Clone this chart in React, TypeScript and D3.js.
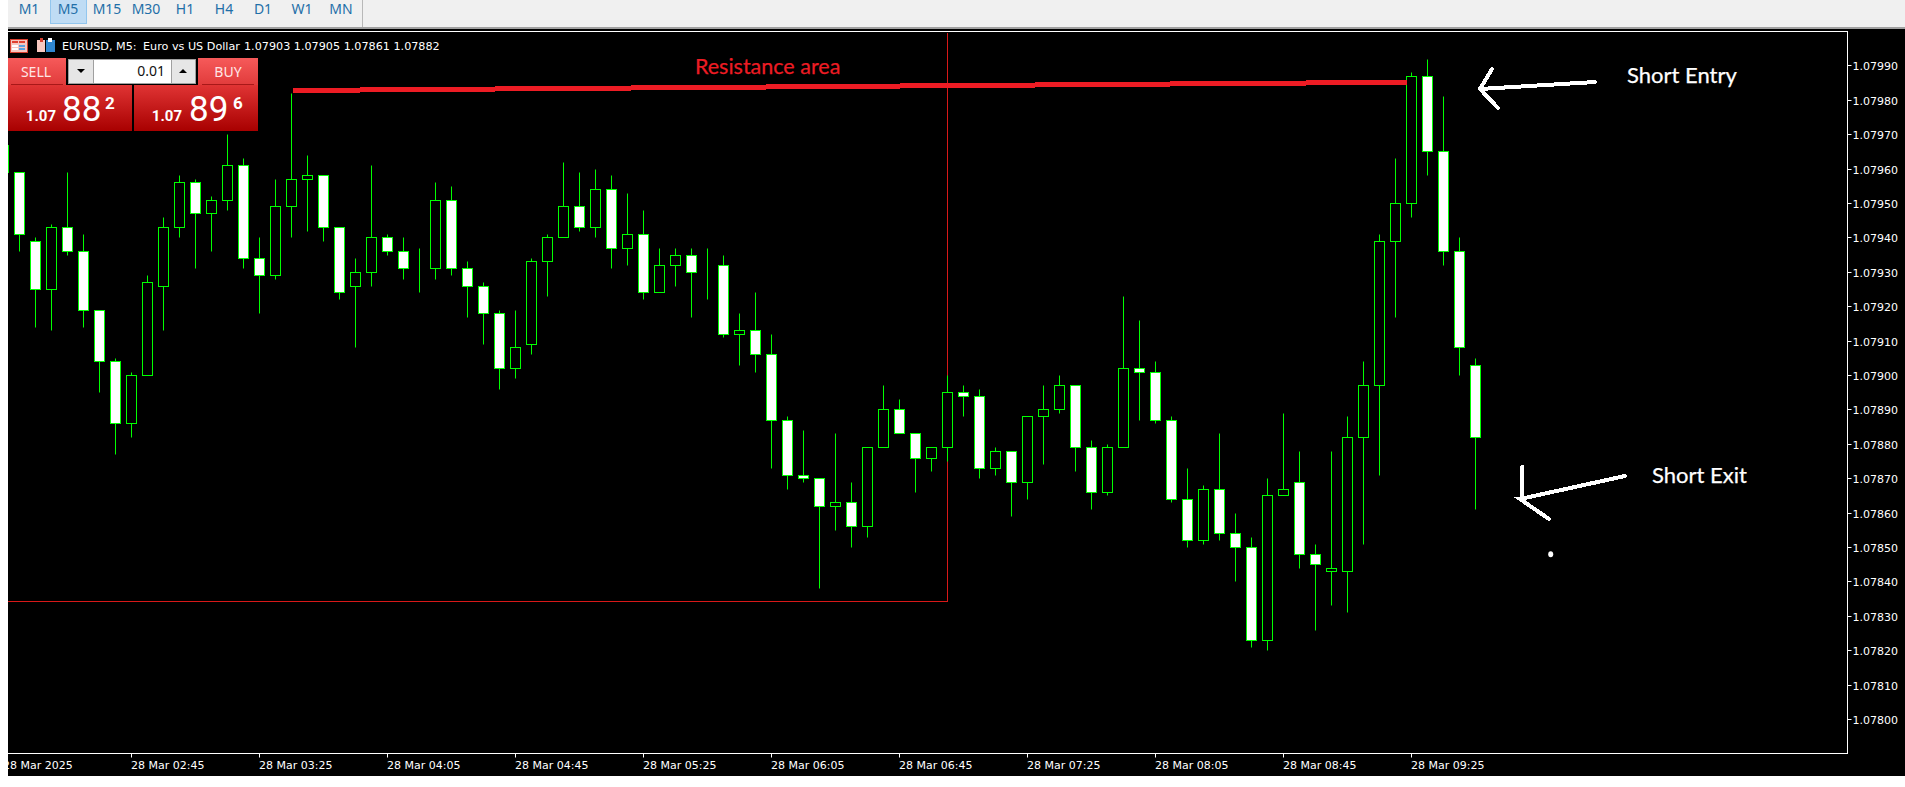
import * as d3 from 'd3';
import React from 'react';

const W = 1905;
const H = 787;

const periods = ['M1', 'M5', 'M15', 'M30', 'H1', 'H4', 'D1', 'W1', 'MN'];

// candle -1 is the one cut off by the left edge of the window
const opens = [
  1.07959, 1.07959, 1.07939, 1.07925, 1.07943, 1.07936, 1.07919, 1.07904, 1.07886, 1.079, 1.07926, 1.07943, 1.07956,
  1.07947, 1.07951, 1.07961, 1.07934, 1.07929, 1.07949, 1.07957, 1.07958, 1.07943, 1.07926, 1.0793, 1.0794, 1.07936,
  1.07931, 1.07931, 1.07951, 1.07931, 1.07926, 1.07918, 1.07902, 1.07909, 1.07933, 1.0794, 1.07949, 1.07943, 1.07954,
  1.07937, 1.07941, 1.07924, 1.07932, 1.07935, 1.07931, 1.07932, 1.07912, 1.07913, 1.07906, 1.07887, 1.07871, 1.0787,
  1.07862, 1.07863, 1.07856, 1.07879, 1.0789, 1.07883, 1.07876, 1.07879, 1.07895, 1.07894, 1.07873, 1.07878, 1.07869,
  1.07888, 1.0789, 1.07897, 1.07879, 1.07866, 1.07879, 1.07902, 1.07901, 1.07887, 1.07864, 1.07852, 1.07867, 1.07854,
  1.0785, 1.07823, 1.07865, 1.07869, 1.07848, 1.07843, 1.07843, 1.07882, 1.07897, 1.07939, 1.0795, 1.07987, 1.07965,
  1.07936, 1.07903,
];
const closes = [
  1.07967, 1.07941, 1.07925, 1.07943, 1.07936, 1.07919, 1.07904, 1.07886, 1.079, 1.07927, 1.07943, 1.07956, 1.07947,
  1.07951, 1.07961, 1.07934, 1.07929, 1.07949, 1.07957, 1.07958, 1.07943, 1.07924, 1.0793, 1.0794, 1.07936, 1.07931,
  1.07931, 1.07951, 1.07931, 1.07926, 1.07918, 1.07902, 1.07908, 1.07933, 1.0794, 1.07949, 1.07943, 1.07954, 1.07937,
  1.07941, 1.07924, 1.07932, 1.07935, 1.0793, 1.07931, 1.07912, 1.07913, 1.07906, 1.07887, 1.07871, 1.0787, 1.07862,
  1.07863, 1.07856, 1.07879, 1.0789, 1.07883, 1.07876, 1.07879, 1.07895, 1.07894, 1.07873, 1.07878, 1.07869, 1.07888,
  1.0789, 1.07897, 1.07879, 1.07866, 1.07879, 1.07902, 1.07901, 1.07887, 1.07864, 1.07852, 1.07867, 1.07854, 1.0785,
  1.07823, 1.07865, 1.07867, 1.07848, 1.07845, 1.07844, 1.07882, 1.07897, 1.07939, 1.0795, 1.07987, 1.07965, 1.07936,
  1.07908, 1.07882,
];
const highs = [
  1.07967, 1.07959, 1.0794, 1.07944, 1.07959, 1.07941, 1.07919, 1.07905, 1.07901, 1.07929, 1.07946, 1.07958, 1.07957,
  1.07952, 1.0797, 1.07963, 1.0794, 1.07957, 1.07982, 1.07964, 1.07958, 1.07943, 1.07934, 1.07961, 1.07941, 1.0794,
  1.07937, 1.07956, 1.07955, 1.07933, 1.07927, 1.07919, 1.07919, 1.07934, 1.07941, 1.07962, 1.07959, 1.0796, 1.07958,
  1.07953, 1.07948, 1.07937, 1.07937, 1.07937, 1.07937, 1.07935, 1.07918, 1.07924, 1.07912, 1.07888, 1.07884, 1.0787,
  1.07883, 1.07869, 1.07879, 1.07897, 1.07893, 1.07883, 1.07879, 1.079, 1.07897, 1.07896, 1.07879, 1.07878, 1.07888,
  1.07897, 1.079, 1.07897, 1.07881, 1.0788, 1.07923, 1.07916, 1.07904, 1.07888, 1.07873, 1.07868, 1.07883, 1.0786,
  1.07853, 1.0787, 1.07889, 1.07878, 1.07851, 1.07878, 1.07888, 1.07904, 1.07941, 1.07963, 1.07988, 1.07992, 1.07981,
  1.0794, 1.07905,
];
const lows = [
  1.07959, 1.07936, 1.07914, 1.07913, 1.07935, 1.07914, 1.07895, 1.07877, 1.07882, 1.079, 1.07913, 1.0794, 1.07931,
  1.07936, 1.07948, 1.07931, 1.07918, 1.07928, 1.0794, 1.07942, 1.07939, 1.07922, 1.07908, 1.07926, 1.07935, 1.07928,
  1.07924, 1.07928, 1.07929, 1.07917, 1.07909, 1.07896, 1.07899, 1.07906, 1.07923, 1.0794, 1.07942, 1.0794, 1.07931,
  1.07932, 1.07922, 1.07924, 1.07926, 1.07917, 1.07922, 1.07911, 1.07903, 1.07901, 1.07873, 1.07867, 1.07869, 1.07838,
  1.07855, 1.0785, 1.07853, 1.07879, 1.07883, 1.07866, 1.07872, 1.07875, 1.07888, 1.0787, 1.07871, 1.07859, 1.07864,
  1.07874, 1.07889, 1.07872, 1.07861, 1.07865, 1.07879, 1.07887, 1.07886, 1.07863, 1.0785, 1.07851, 1.07852, 1.0784,
  1.07821, 1.0782, 1.07865, 1.07844, 1.07826, 1.07833, 1.07831, 1.07851, 1.07871, 1.07917, 1.07946, 1.07958, 1.07932,
  1.079, 1.07861,
];

const priceTicks = [
  1.0799, 1.0798, 1.0797, 1.0796, 1.0795, 1.0794, 1.0793, 1.0792, 1.0791, 1.079, 1.0789, 1.0788, 1.0787, 1.0786,
  1.0785, 1.0784, 1.0783, 1.0782, 1.0781, 1.078,
];
const timeLabels = [
  '28 Mar 2025', '28 Mar 02:45', '28 Mar 03:25', '28 Mar 04:05', '28 Mar 04:45', '28 Mar 05:25', '28 Mar 06:05',
  '28 Mar 06:45', '28 Mar 07:25', '28 Mar 08:05', '28 Mar 08:45', '28 Mar 09:25',
];

const plot = { left: 8, right: 1847.5, top: 31.5, bottom: 753.5 };
const GREEN = '#00ff00';
const PAINT_RED = '#ed1c24';
const uiFont = '"DejaVu Sans", sans-serif';
const noteFont = 'Lato, sans-serif';

// first array slot is candle index -1
const x = d3.scaleLinear().domain([-1, 91]).range([3.5, 1475.5]);
const y = d3.scaleLinear().domain([1.078, 1.0799]).range([719, 65.4]);
const snap = (v: number) => Math.round(v) + 0.5;

const line = d3.line();

function Candles() {
  return (
    <g clipPath="url(#plot-clip)">
      {opens.map((o, i) => {
        const cx = x(i - 1);
        const top = snap(y(Math.max(o, closes[i])));
        const bottom = snap(y(Math.min(o, closes[i])));
        return (
          <g key={i}>
            <line x1={cx} x2={cx} y1={snap(y(highs[i]))} y2={snap(y(lows[i]))} stroke={GREEN} />
            <rect
              x={cx - 5}
              y={top}
              width={10}
              height={bottom - top}
              fill={closes[i] < o ? '#fff' : '#000'}
              stroke={GREEN}
              shapeRendering="crispEdges"
            />
          </g>
        );
      })}
    </g>
  );
}

function TradePanel() {
  const sides = [
    { side: 'SELL', bx: 8, bw: 58, lx: 11, lw: 52, px: 8, tx: 36, big: '88', small: '2', x1: 56, x2: 62, x3: 105 },
    { side: 'BUY', bx: 198, bw: 60, lx: 202, lw: 52, px: 134, tx: 228, big: '89', small: '6', x1: 182, x2: 189, x3: 233 },
  ];
  const num = 'Roboto, "Liberation Sans", sans-serif';
  return (
    <g>
      {sides.map((s) => (
        <g key={s.side}>
          <rect x={s.bx} y={58} width={s.bw} height={28} fill="url(#btn-top)" />
          <rect x={s.lx} y={84} width={s.lw} height={1} fill="#a81818" />
          <rect x={s.px} y={85} width={124} height={46} fill="url(#btn-price)" />
          <text x={s.tx} y={77} textAnchor="middle" fill="#ffe6e6" fontSize={14} fontFamily='"Noto Sans", sans-serif'>
            {s.side}
          </text>
          <text x={s.x1} y={121} textAnchor="end" fill="#fff" fontSize={15} fontWeight={700} fontFamily={num}>
            1.07
          </text>
          <text x={s.x2} y={121} fill="#fff" fontSize={35} fontFamily={num}>
            {s.big}
          </text>
          <text x={s.x3} y={109} fill="#fff" fontSize={17} fontWeight={700} fontFamily={num}>
            {s.small}
          </text>
        </g>
      ))}
      <rect x={66} y={58} width={132} height={27} fill="#000" />
      <rect x={68.5} y={59.5} width={127} height={24} fill="#fff" stroke="#a0a0a0" />
      <rect x={69} y={60} width={24} height={23} fill="#e6e6e6" />
      <rect x={172} y={60} width={23} height={23} fill="#e6e6e6" />
      <line x1={93.5} x2={93.5} y1={60} y2={83} stroke="#a0a0a0" />
      <line x1={171.5} x2={171.5} y1={60} y2={83} stroke="#a0a0a0" />
      <path d="M77 69h8l-4 4z" fill="#000" />
      <path d="M179 73h8l-4-4z" fill="#000" />
      <text x={165} y={76} textAnchor="end" fontSize={14} fill="#111" fontFamily='"Noto Sans", sans-serif'>
        0.01
      </text>
    </g>
  );
}

function HeaderIcons() {
  return (
    <g shapeRendering="crispEdges">
      <rect x={10} y={39} width={17} height={13} fill="#f5c6c0" stroke="#d84030" />
      <rect x={12} y={41} width={6} height={2} fill="#e04030" />
      <rect x={19} y={41} width={6} height={2} fill="#e04030" />
      <rect x={12} y={45} width={6} height={2} fill="#fff" />
      <rect x={19} y={45} width={6} height={2} fill="#5aa0e0" />
      <rect x={12} y={48} width={6} height={2} fill="#fff" />
      <rect x={19} y={48} width={6} height={2} fill="#5aa0e0" />
      <rect x={37} y={40} width={8} height={12} fill="#f8c8c0" />
      <rect x={40} y={38} width={3} height={4} fill="#d84030" />
      <rect x={46} y={40} width={9} height={12} fill="#2f86d0" />
      <rect x={48} y={38} width={4} height={4} fill="#fff" />
    </g>
  );
}

function Annotations() {
  const lineStyle = { stroke: '#fff', strokeWidth: 4, fill: 'none', strokeLinecap: 'round' as const };
  return (
    <g>
      <line
        x1={x(17.09)}
        x2={x(86.7)}
        y1={y(1.079827)}
        y2={y(1.079851)}
        stroke={PAINT_RED}
        strokeWidth={5}
        shapeRendering="crispEdges"
      />
      <text x={695} y={74} fill={PAINT_RED} stroke={PAINT_RED} strokeWidth={0.25} fontSize={21.5} fontFamily={noteFont}>
        Resistance area
      </text>
      <path {...lineStyle} d={line([[1595, 82], [1480, 89]]) as string} shapeRendering="crispEdges" />
      <path {...lineStyle} d={line([[1492, 69], [1480, 89], [1498, 108]]) as string} shapeRendering="crispEdges" />
      <text x={1627} y={83} fill="#fff" stroke="#fff" strokeWidth={0.25} fontSize={22} fontFamily={noteFont}>
        Short Entry
      </text>
      <path {...lineStyle} d={line([[1625, 476], [1520, 499]]) as string} shapeRendering="crispEdges" />
      <path {...lineStyle} d={line([[1522, 467], [1522, 499], [1520, 499], [1549, 519]]) as string} shapeRendering="crispEdges" />
      <ellipse cx={1550.7} cy={554.3} rx={2.5} ry={3} fill="#fff" />
      <text x={1652} y={483} fill="#fff" stroke="#fff" strokeWidth={0.25} fontSize={22} fontFamily={noteFont}>
        Short Exit
      </text>
    </g>
  );
}

export default function App() {
  return (
    <svg width={W} height={H} style={{ position: 'absolute', left: 0, top: 0, display: 'block' }}>
      <defs>
        <clipPath id="plot-clip">
          <rect x={plot.left} y={plot.top} width={plot.right - plot.left} height={plot.bottom - plot.top} />
        </clipPath>
        <clipPath id="left-clip">
          <rect x={plot.left} y={plot.bottom} width={W} height={30} />
        </clipPath>
        <linearGradient id="btn-top" x1="0" x2="0" y1="0" y2="1">
          <stop offset="0" stopColor="#f65a5a" />
          <stop offset="1" stopColor="#e03a3a" />
        </linearGradient>
        <linearGradient id="btn-price" x1="0" x2="0" y1="0" y2="1">
          <stop offset="0" stopColor="#e03434" />
          <stop offset="1" stopColor="#a80000" />
        </linearGradient>
      </defs>
      <rect width={W} height={H} fill="#fff" />
      <rect x={plot.left} width={W - plot.left} height={27} fill="#f0f0f0" />
      <rect x={plot.left} y={27} width={W - plot.left} height={2} fill="#a0a0a0" />
      <rect x={362} width={1} height={27} fill="#b8b8b8" />
      <rect x={plot.left} y={29} width={W - plot.left} height={747} fill="#000" />

      <rect x={50.5} y={-1} width={36} height={24.5} fill="#bfdcf4" stroke="#92c6ee" />
      {periods.map((p, i) => (
        <text
          key={p}
          x={29 + i * 39}
          y={14}
          textAnchor="middle"
          fontSize={14}
          fill="#1f6fa8"
          fontFamily='"Noto Sans", sans-serif'
        >
          {p}
        </text>
      ))}

      <path
        d={`M${plot.left} ${plot.bottom}H${plot.right}V${plot.top}H${plot.left}`}
        fill="none"
        stroke="#fff"
        shapeRendering="crispEdges"
      />

      {/* resistance box, sits behind the candles */}
      <path
        d={`M${plot.left} ${snap(y(1.078342))}H${x(58)}V${plot.top + 1}`}
        fill="none"
        stroke="#d81818"
        shapeRendering="crispEdges"
      />

      <Candles />

      {priceTicks.map((p) => (
        <g key={p}>
          <line x1={plot.right} x2={plot.right + 4} y1={snap(y(p))} y2={snap(y(p))} stroke="#fff" />
          <text x={1852.5} y={snap(y(p)) + 4} fill="#fff" fontSize={11} fontFamily={uiFont}>
            {d3.format('.5f')(p)}
          </text>
        </g>
      ))}

      <g clipPath="url(#left-clip)">
        {timeLabels.map((t, i) => (
          <g key={t}>
            <line x1={x(-1 + i * 8)} x2={x(-1 + i * 8)} y1={plot.bottom} y2={plot.bottom + 4} stroke="#fff" />
            <text x={x(-1 + i * 8) - 0.5} y={769} fill="#fff" fontSize={11} fontFamily={uiFont}>
              {t}
            </text>
          </g>
        ))}
      </g>

      <HeaderIcons />
      <text y={50} fill="#fff" fontSize={11.2} fontFamily={uiFont}>
        <tspan x={62}>EURUSD, M5:</tspan>
        <tspan x={143}>Euro vs US Dollar</tspan>
        <tspan x={244}>1.07903 1.07905 1.07861 1.07882</tspan>
      </text>
      <TradePanel />
      <Annotations />
    </svg>
  );
}
